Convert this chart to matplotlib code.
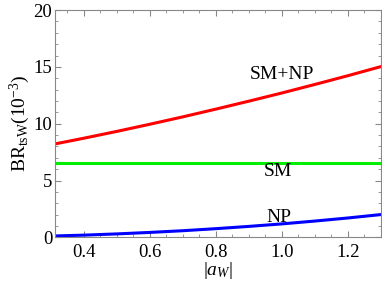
import matplotlib
matplotlib.use("Agg")
import matplotlib.pyplot as plt
from matplotlib.ticker import MultipleLocator

plt.rcParams['font.family'] = 'Liberation Serif'
plt.rcParams['mathtext.fontset'] = 'custom'
plt.rcParams['mathtext.rm'] = 'Liberation Serif'
plt.rcParams['mathtext.it'] = 'Liberation Serif:italic'

# values
a_w = [0.313, 0.4, 0.5, 0.6, 0.7, 0.8, 0.9, 1.0, 1.1, 1.2, 1.3]
br_smnp = [8.22, 8.72, 9.32, 9.95, 10.6, 11.28, 11.98, 12.7, 13.45, 14.22, 15.02]
br_sm = [6.5] * len(a_w)
br_np = [0.12, 0.19, 0.3, 0.43, 0.58, 0.76, 0.96, 1.18, 1.43, 1.7, 2.0]

fig = plt.figure(figsize=(3.82, 2.88), dpi=100)
ax = fig.add_axes([0.144, 0.176, 0.8526, 0.789])

ax.plot(a_w, br_smnp, color='#ff0000', lw=2.2)
ax.plot(a_w, br_sm, color='#00ee00', lw=2.2)
ax.plot(a_w, br_np, color='#0000ff', lw=2.2)

ax.text(1.0, 14.3, 'SM+NP', fontsize=14, ha='center', va='center')
ax.text(0.99, 5.8, 'SM', fontsize=14, ha='center', va='center')
ax.text(0.99, 1.75, 'NP', fontsize=14, ha='center', va='center')

ax.set_xlim(0.313, 1.3)
ax.set_ylim(0, 20)
ax.xaxis.set_minor_locator(MultipleLocator(0.05))
ax.yaxis.set_major_locator(MultipleLocator(5))
ax.yaxis.set_minor_locator(MultipleLocator(1))
ax.set_xticks([0.4, 0.6, 0.8, 1.0, 1.2])
ax.set_xticklabels(['0.4', '0.6', '0.8', '1.0', '1.2'])

ax.tick_params(which='both', direction='in', top=True, right=True, color='#888888', labelsize=13.5)
ax.tick_params(axis='x', pad=5)
ax.tick_params(axis='y', pad=2)
ax.tick_params(which='major', length=4)
ax.tick_params(which='minor', length=2)
for s in ax.spines.values():
    s.set_color('#888888')
    s.set_linewidth(0.8)

ax.set_xlabel(r'$|a_W|$', fontsize=14, labelpad=-1)
ax.set_ylabel(r'$\mathrm{BR}_{\mathrm{tsW}}(10^{-3})$', fontsize=14, labelpad=1)

fig.savefig('out.png', dpi=100)
